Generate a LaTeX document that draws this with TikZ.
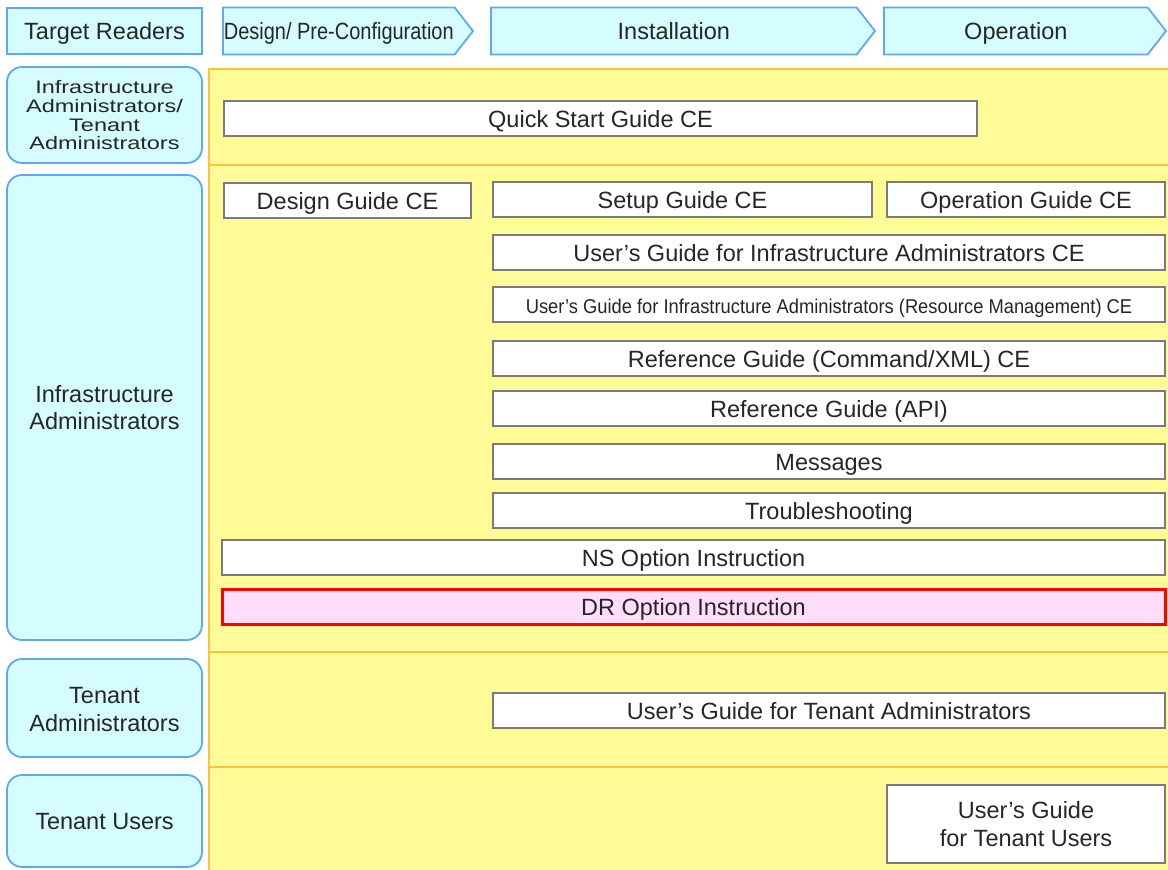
\documentclass[tikz,border=0pt]{standalone}
\usepackage{fontspec}
\setmainfont{Liberation Sans}
\usepackage{graphicx}
\usetikzlibrary{shapes.symbols}

\definecolor{readercyan}{HTML}{D5FCFF}
\definecolor{readerblue}{HTML}{5DAAF2}
\definecolor{paneyellow}{HTML}{FFFB96}
\definecolor{paneorange}{HTML}{FFC23C}
\definecolor{guidegray}{HTML}{7A7A7A}
\definecolor{drpink}{HTML}{FFDDFB}
\definecolor{drred}{HTML}{FF0000}

\begin{document}
\begin{tikzpicture}[x=1pt,y=-1pt,
    font=\fontsize{23.5}{27.5}\selectfont,
    every node/.style={inner sep=0pt,outer sep=0pt,align=center,text=black!85},
    oneline/.style={text height=17pt,text depth=0pt},
    reader/.style={draw=readerblue,fill=readercyan,line width=1.8pt,rounded corners=15pt,
                   anchor=north west,minimum width=195pt},
    readerhead/.style={reader,rounded corners=0pt,oneline},
    phase/.style={signal,signal to=east,signal pointer angle=104,
                  draw=readerblue,fill=readercyan,line width=1.8pt,
                  anchor=west,minimum height=47pt,oneline},
    guidebox/.style={draw=guidegray,fill=white,line width=2pt,
                     anchor=north west,minimum height=35pt,minimum width=672pt},
    guide/.style={guidebox,oneline},
    drbox/.style={guide,draw=drred,fill=drpink,line width=3pt}]
  \useasboundingbox (0,0) rectangle (1168,870);

  % phases
  \node[readerhead,minimum height=46pt] (readers) at (7,8) {Target Readers};
  \node[phase,minimum width=250pt] (design) at (223,31)
       {\scalebox{0.85}[1]{Design/ Pre-Configuration}};
  \node[phase,minimum width=384pt] (install) at (491,31) {Installation};
  \node[phase,minimum width=282pt] (operate) at (884,31) {Operation};

  % yellow pane with its rows
  \fill[paneyellow] (209,69) rectangle (1168,870);
  \draw[paneorange,line width=2pt] (209,870) -- (209,69) -- (1168,69);
  \foreach \y in {165,652,767}
    \draw[paneorange,line width=2pt] (209,\y) -- (1168,\y);

  % target readers
  \node[reader,minimum height=96pt] (infraten) at (7,67)
       {\raisebox{-3pt}[\height][\depth]{\scalebox{1}[0.77]{\fontsize{23.5}{24}\selectfont
        \begin{tabular}{@{}c@{}}Infrastructure\\Administrators/\\Tenant\\Administrators\end{tabular}}}};
  \node[reader,minimum height=465pt] (infra) at (7,175) {Infrastructure\\Administrators};
  \node[reader,minimum height=98pt] (tenadm) at (7,659)
       {\raisebox{-4pt}[\height][\depth]{\begin{tabular}{@{}c@{}}Tenant\\Administrators\end{tabular}}};
  \node[reader,minimum height=92pt,oneline] (tenusr) at (7,775) {Tenant Users};

  % manuals
  \node[guide,minimum width=753pt] (quick) at (224,101) {Quick Start Guide CE};
  \node[guide,minimum width=247pt] (designg) at (224,183) {Design Guide CE};
  \node[guide,minimum width=379pt] (setup) at (493,182) {Setup Guide CE};
  \node[guide,minimum width=278pt] (operg) at (887,182) {Operation Guide CE};
  \node[guide] (infrag) at (493,235) {User's Guide for Infrastructure Administrators CE};
  \node[guide] (resmg) at (493,287)
       {\scalebox{0.78}[0.85]{User's Guide for Infrastructure Administrators (Resource Management) CE}};
  \node[guide] (cmdref) at (493,341) {Reference Guide (Command/XML) CE};
  \node[guide] (apiref) at (493,391) {Reference Guide (API)};
  \node[guide] (msgs) at (493,444) {Messages};
  \node[guide] (trouble) at (493,493) {Troubleshooting};
  \node[guide,minimum width=943pt] (nsopt) at (222,540) {NS Option Instruction};
  \node[drbox,minimum width=943pt] (dropt) at (222,589) {DR Option Instruction};
  \node[guide] (tenadmg) at (493,693) {User's Guide for Tenant Administrators};
  \node[guidebox,minimum width=278pt,minimum height=78pt] (tenusrg) at (887,785)
       {User's Guide\\for Tenant Users};
\end{tikzpicture}
\end{document}
